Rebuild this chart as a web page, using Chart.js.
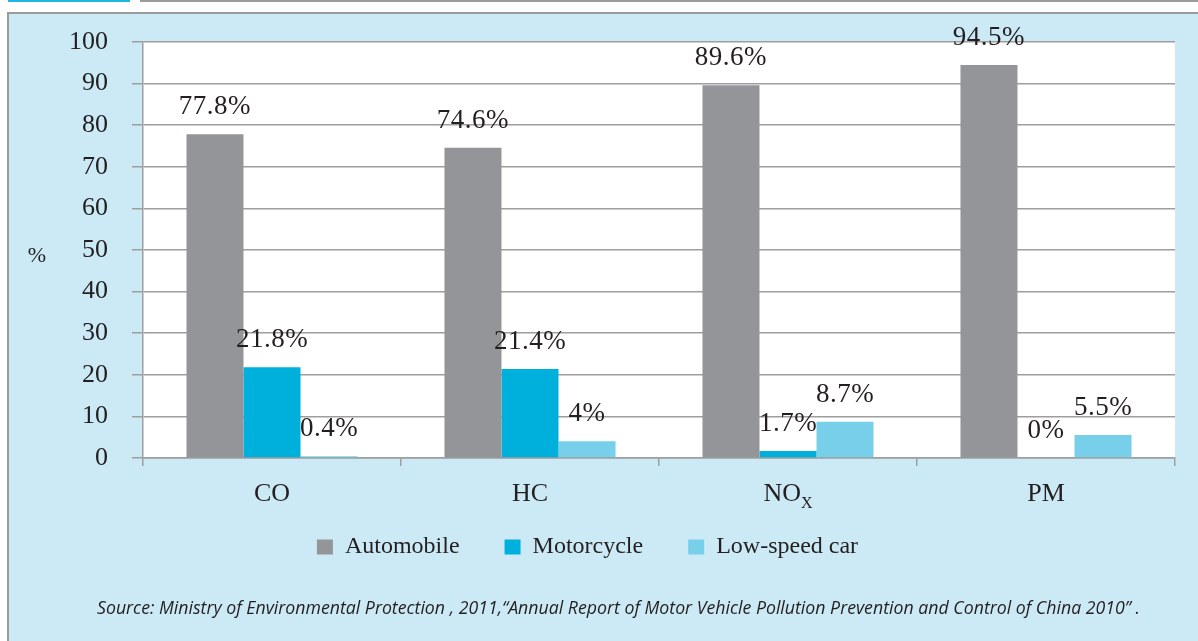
<!DOCTYPE html>
<html>
<head>
<meta charset="utf-8">
<script src="https://cdn.jsdelivr.net/npm/chart.js@4.4.1/dist/chart.umd.min.js"></script>
<style>
  html, body { margin: 0; padding: 0; background: #ffffff; width: 1198px; height: 641px; overflow: hidden; }
  #stripCyan { position: absolute; left: 8px; top: 0; width: 122px; height: 2px; background: #1fb5e3; }
  #stripGray { position: absolute; left: 140px; top: 0; width: 1058px; height: 2px; background: #9b9b9b; }
  #panel { position: absolute; left: 7px; top: 12px; width: 1191px; height: 629px; background: #cce9f6;
           border-top: 2px solid #9b9b9b; border-left: 2px solid #9b9b9b; box-sizing: border-box; }
  #chart { position: absolute; left: 0; top: 0; }
  #source { position: absolute; left: 97px; top: 595px; white-space: nowrap; font-family: 'Open Sans', sans-serif;
            font-style: italic; font-size: 18px; color: #231f20; transform-origin: 0 0; }
</style>
</head>
<body>
<div id="stripCyan"></div>
<div id="stripGray"></div>
<div id="panel"></div>
<canvas id="chart" width="1198" height="641"></canvas>
<div id="source">Source: Ministry of Environmental Protection , 2011,“Annual Report of Motor Vehicle Pollution Prevention and Control of China 2010” .</div>
<script>
// ---- data ----
const categories = ["CO", "HC", "NO_X", "PM"];
const seriesNames = ["Automobile", "Motorcycle", "Low-speed car"];
const automobile = [77.8, 74.6, 89.6, 94.5];
const motorcycle = [21.8, 21.4, 1.7, 0];
const lowSpeedCar = [0.4, 4, 8.7, 5.5];
const yMin = 0, yMax = 100, yStep = 10;
const yAxisTitle = "%";

// ---- styles ----
const colors = ["#939598", "#00b0dc", "#78cfea"];
const textColor = "#231f20";
const gridColor = "#9e9e9e";
const serif = "'Liberation Serif', 'Times New Roman', serif";

Chart.defaults.font.family = serif;
Chart.defaults.color = textColor;

const plotBg = {
  id: 'plotBg',
  beforeDraw(chart) {
    const {ctx, chartArea: a} = chart;
    ctx.save();
    ctx.fillStyle = '#ffffff';
    ctx.fillRect(a.left, a.top, a.right - a.left, a.bottom - a.top);
    ctx.restore();
  }
};

const labelsPlugin = {
  id: 'labelsPlugin',
  afterDraw(chart) {
    const ctx = chart.ctx;
    const a = chart.chartArea;
    ctx.save();
    // value labels
    ctx.font = "27px " + serif;
    ctx.fillStyle = textColor;
    ctx.textAlign = 'center';
    ctx.textBaseline = 'middle';
    if ('letterSpacing' in ctx) ctx.letterSpacing = '0.5px';
    chart.data.datasets.forEach((ds, di) => {
      chart.getDatasetMeta(di).data.forEach((el, i) => {
        ctx.fillText(String(ds.data[i]) + '%', el.x, el.y - 27);
      });
    });
    if ('letterSpacing' in ctx) ctx.letterSpacing = '0px';
    // category labels (with subscript support)
    const xs = chart.scales.x;
    const yLab = a.bottom + 36;
    categories.forEach((c, i) => {
      const parts = c.split('_');
      const base = parts[0], sub = parts[1] || '';
      ctx.font = "26px " + serif;
      const wb = ctx.measureText(base).width;
      ctx.font = "16px " + serif;
      const ws = sub ? ctx.measureText(sub).width : 0;
      const cx = xs.getPixelForTick(i);
      let x0 = cx - (wb + ws) / 2;
      ctx.textAlign = 'left';
      ctx.font = "26px " + serif;
      ctx.fillText(base, x0, yLab);
      if (sub) {
        ctx.font = "16px " + serif;
        ctx.fillText(sub, x0 + wb, yLab + 10);
      }
    });
    // y axis title
    ctx.font = "22px " + serif;
    ctx.textAlign = 'center';
    ctx.fillText(yAxisTitle, 37, 256);
    ctx.restore();
  }
};

const seriesData = [automobile, motorcycle, lowSpeedCar];

new Chart(document.getElementById('chart'), {
  type: 'bar',
  data: {
    labels: categories,
    datasets: seriesNames.map((n, i) => ({
      label: n,
      data: seriesData[i],
      backgroundColor: colors[i],
      borderWidth: 0,
      categoryPercentage: 0.663,
      barPercentage: 1.0
    }))
  },
  options: {
    responsive: false,
    animation: false,
    devicePixelRatio: 1,
    layout: { padding: { left: 0, right: 23, top: 42, bottom: 72 } },
    plugins: {
      legend: {
        position: 'bottom',
        labels: {
          boxWidth: 16,
          boxHeight: 15,
          padding: 45,
          color: textColor,
          font: { size: 24, family: serif }
        }
      },
      tooltip: { enabled: false }
    },
    scales: {
      x: {
        grid: { drawOnChartArea: false, drawTicks: true, tickLength: 8, offset: true, color: gridColor, lineWidth: 1.5 },
        border: { display: true, color: gridColor, width: 1.5 },
        ticks: { display: false },
        afterFit(scale) { scale.height = 32; }
      },
      y: {
        min: yMin, max: yMax,
        ticks: { stepSize: yStep, padding: 24, color: textColor, font: { size: 26, family: serif } },
        grid: { color: gridColor, lineWidth: 1.5, tickLength: 11, drawTicks: true },
        border: { display: true, color: gridColor, width: 1.5 },
        afterFit(scale) { scale.width = 143; }
      }
    }
  },
  plugins: [plotBg, labelsPlugin]
});

// fit source line to reference width
const src = document.getElementById('source');
const w = src.getBoundingClientRect().width;
src.style.transform = 'scaleX(' + (1043 / w) + ')';
</script>
</body>
</html>
